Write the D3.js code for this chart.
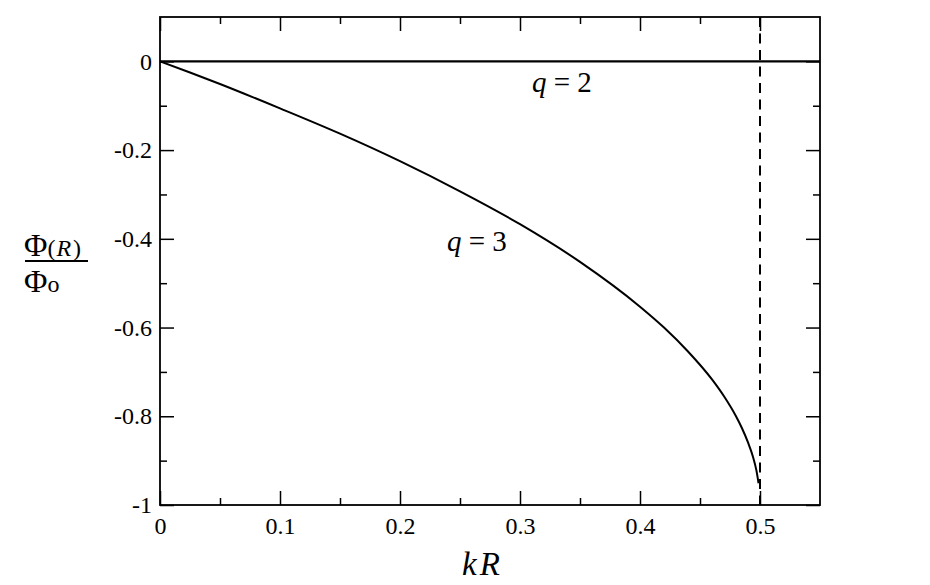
<!DOCTYPE html>
<html>
<head>
<meta charset="utf-8">
<script src="https://cdn.jsdelivr.net/npm/d3@7/dist/d3.min.js"></script>
<style>
  html, body { margin: 0; padding: 0; background: #fff; }
  svg { display: block; }
  svg text { font-family: "Liberation Serif", "Tinos", "Times New Roman", "Times", "Nimbus Roman", "DejaVu Serif", serif; fill: #000; }
</style>
</head>
<body>
<svg id="chart" width="930" height="585"></svg>
<script>
// ---- data ----
const q3X = [0, 0.025, 0.05, 0.1, 0.15, 0.2, 0.25, 0.3, 0.35, 0.4, 0.42, 0.44, 0.46, 0.47, 0.48, 0.485, 0.49, 0.494, 0.497, 0.4988];
const q3Y = [0, -0.025, -0.051, -0.106, -0.163, -0.225, -0.293, -0.367, -0.452, -0.553, -0.600, -0.654, -0.717, -0.755, -0.800, -0.827, -0.859, -0.890, -0.922, -0.951];
const q2X = [0, 0.55];
const q2Y = [0, 0];
const asymptoteX = 0.5;
const xMajorTicks = [0, 0.1, 0.2, 0.3, 0.4, 0.5];
const xTickLabels = ["0", "0.1", "0.2", "0.3", "0.4", "0.5"];
const xMinorTicks = [0.05, 0.15, 0.25, 0.35, 0.45];
const yMajorTicks = [0, -0.2, -0.4, -0.6, -0.8, -1];
const yTickLabels = ["0", "-0.2", "-0.4", "-0.6", "-0.8", "-1"];
const yMinorTicks = [-0.1, -0.3, -0.5, -0.7, -0.9];
const xDomain = [0, 0.55];
const yDomain = [-1, 0.1];

// ---- layout ----
const SERIF = '"Liberation Serif", "Tinos", "Times New Roman", "Times", "Nimbus Roman", "DejaVu Serif", serif';
const svg = d3.select("#chart");
const L = 160, R = 820, T = 17, B = 505;
const x = d3.scaleLinear().domain(xDomain).range([L, R]);
const y = d3.scaleLinear().domain(yDomain).range([B, T]);
const MAJ = 14, MIN = 7, FS = 24;

function styleAxis(g, showText) {
  g.attr("font-family", SERIF).attr("font-size", FS);
  g.select(".domain").remove();
  g.selectAll(".tick line").attr("stroke", "#000").attr("stroke-width", 1.5);
  g.selectAll(".tick text").style("font-size", FS + "px").style("font-family", SERIF).attr("fill", "#000");
  if (!showText) g.selectAll(".tick text").remove();
}

// bottom
svg.append("g").attr("transform", `translate(0,${B})`)
  .call(d3.axisBottom(x).tickValues(xMajorTicks).tickSizeInner(-MAJ).tickSizeOuter(0).tickPadding(12)
    .tickFormat((d, i) => xTickLabels[i]))
  .call(g => styleAxis(g, true));
svg.append("g").attr("transform", `translate(0,${B})`)
  .call(d3.axisBottom(x).tickValues(xMinorTicks).tickSizeInner(-MIN).tickSizeOuter(0))
  .call(g => styleAxis(g, false));
// top
svg.append("g").attr("transform", `translate(0,${T})`)
  .call(d3.axisTop(x).tickValues(xMajorTicks).tickSizeInner(-MAJ).tickSizeOuter(0))
  .call(g => styleAxis(g, false));
svg.append("g").attr("transform", `translate(0,${T})`)
  .call(d3.axisTop(x).tickValues(xMinorTicks).tickSizeInner(-MIN).tickSizeOuter(0))
  .call(g => styleAxis(g, false));
// left
svg.append("g").attr("transform", `translate(${L},0)`)
  .call(d3.axisLeft(y).tickValues(yMajorTicks).tickSizeInner(-MAJ).tickSizeOuter(0).tickPadding(8)
    .tickFormat((d, i) => yTickLabels[i]))
  .call(g => styleAxis(g, true));
svg.append("g").attr("transform", `translate(${L},0)`)
  .call(d3.axisLeft(y).tickValues(yMinorTicks).tickSizeInner(-MIN).tickSizeOuter(0))
  .call(g => styleAxis(g, false));
// right
svg.append("g").attr("transform", `translate(${R},0)`)
  .call(d3.axisRight(y).tickValues(yMajorTicks).tickSizeInner(-MAJ).tickSizeOuter(0))
  .call(g => styleAxis(g, false));
svg.append("g").attr("transform", `translate(${R},0)`)
  .call(d3.axisRight(y).tickValues(yMinorTicks).tickSizeInner(-MIN).tickSizeOuter(0))
  .call(g => styleAxis(g, false));

// frame
svg.append("rect").attr("x", L).attr("y", T).attr("width", R - L).attr("height", B - T)
  .attr("fill", "none").attr("stroke", "#000").attr("stroke-width", 1.8);

// lines
const line = d3.line().x(d => x(d[0])).y(d => y(d[1])).curve(d3.curveMonotoneX);
svg.append("path").datum(q2X.map((v, i) => [v, q2Y[i]]))
  .attr("d", d3.line().x(d => x(d[0])).y(d => y(d[1])))
  .attr("fill", "none").attr("stroke", "#000").attr("stroke-width", 2.2);
svg.append("path").datum(q3X.map((v, i) => [v, q3Y[i]]))
  .attr("d", line)
  .attr("fill", "none").attr("stroke", "#000").attr("stroke-width", 2);
svg.append("line")
  .attr("x1", x(asymptoteX)).attr("x2", x(asymptoteX))
  .attr("y1", y(yDomain[1])).attr("y2", y(yDomain[0]))
  .attr("stroke", "#000").attr("stroke-width", 2).attr("stroke-dasharray", "10,6.5");

// annotations
function qLabel(px, py, val) {
  const t = svg.append("text").attr("x", px).attr("y", py).attr("font-size", 29);
  t.append("tspan").attr("font-style", "italic").text("q");
  t.append("tspan").text(" = " + val);
}
qLabel(532, 92, "2");
qLabel(447, 251, "3");

// x axis title
const xt = svg.append("text").attr("x", 481).attr("y", 575).attr("font-size", 33)
  .attr("text-anchor", "middle").attr("font-style", "italic");
xt.append("tspan").text("k");
xt.append("tspan").attr("dx", 3).text("R");

// y axis title (fraction)
const num = svg.append("text").attr("x", 24).attr("y", 256);
num.append("tspan").attr("font-size", 32).text("Φ");
num.append("tspan").attr("font-size", 24).text("(");
num.append("tspan").attr("font-size", 24).attr("font-style", "italic").attr("dx", 1).text("R");
num.append("tspan").attr("font-size", 24).attr("dx", 2).text(")");
svg.append("line").attr("x1", 25).attr("x2", 88).attr("y1", 261).attr("y2", 261)
  .attr("stroke", "#000").attr("stroke-width", 2);
const den = svg.append("text").attr("x", 24).attr("y", 292);
den.append("tspan").attr("font-size", 32).text("Φ");
den.append("tspan").attr("font-size", 24).text("o");
</script>
</body>
</html>
